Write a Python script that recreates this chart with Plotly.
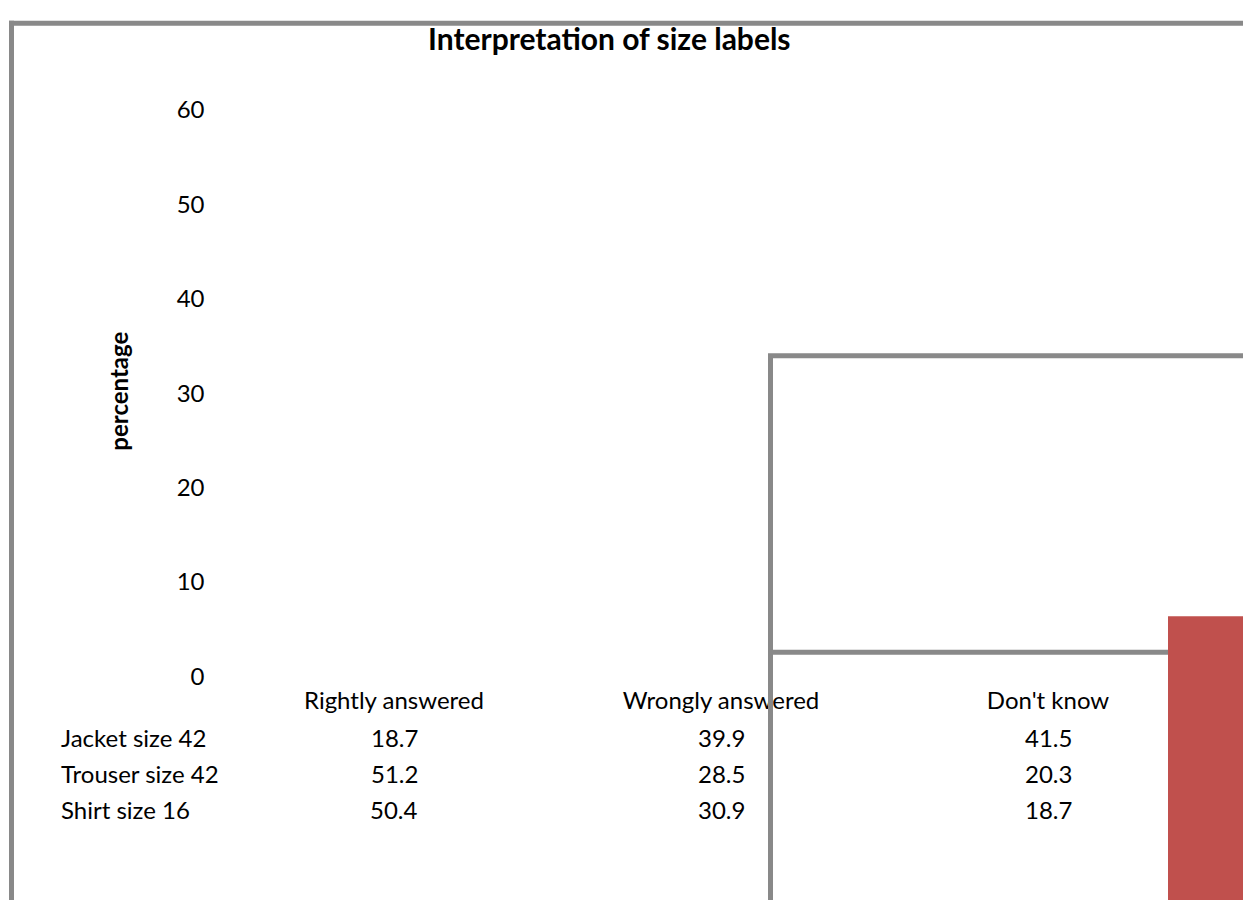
import plotly.graph_objects as go

# Survey results: share of respondents (percent) per garment label
categories = ["Rightly answered", "Wrongly answered", "Don't know"]
garments = ["Jacket size 42", "Trouser size 42", "Shirt size 16"]
jacket_42 = [18.7, 39.9, 41.5]
trouser_42 = [51.2, 28.5, 20.3]
shirt_16 = [50.4, 30.9, 18.7]
series = [jacket_42, trouser_42, shirt_16]
y_ticks = [0, 10, 20, 30, 40, 50, 60]

W, H = 1243, 913
FONT = "Lato, 'Open Sans', sans-serif"
GREY = "#898989"
RED = "#C0504D"
BODY = 24


def xp(px):
    return px / W


def yp(py):
    return 1 - py / H


fig = go.Figure()

fig.update_layout(
    width=W,
    height=H,
    margin=dict(l=0, r=0, t=0, b=0),
    paper_bgcolor="white",
    plot_bgcolor="white",
    showlegend=False,
    font=dict(family=FONT, size=BODY, color="black"),
    xaxis=dict(
        domain=[xp(230.5), xp(1211.5)],
        range=[-0.5, 2.5],
        tickvals=list(range(len(categories))),
        ticktext=categories,
        showgrid=False,
        zeroline=False,
        showline=False,
        ticks="",
        ticklabelstandoff=8,
        tickfont=dict(size=BODY),
        fixedrange=True,
    ),
    yaxis=dict(
        domain=[yp(682), yp(97)],
        range=[0, 60],
        tickvals=y_ticks,
        showgrid=False,
        zeroline=False,
        showline=False,
        ticks="",
        ticklabelstandoff=25,
        tickfont=dict(size=BODY),
        fixedrange=True,
    ),
)

annotations = [
    dict(text="<b>Interpretation of size labels</b>", xref="paper", yref="paper",
         x=xp(609), y=yp(23), xanchor="center", yanchor="middle",
         showarrow=False, font=dict(size=30)),
    dict(text="<b>percentage</b>", xref="paper", yref="paper",
         x=xp(119), y=yp(388), xanchor="center", yanchor="middle",
         textangle=-90, showarrow=False, font=dict(size=24)),
]

# data table beneath the category axis
row_y = [745, 782, 820]
for name, values, ry in zip(garments, series, row_y):
    annotations.append(dict(text=name, xref="paper", yref="paper",
                            x=xp(59), y=yp(ry), xanchor="left", yanchor="middle",
                            showarrow=False, font=dict(size=BODY)))
    for i, v in enumerate(values):
        annotations.append(dict(text=f"{v:.1f}", xref="x", yref="paper",
                                x=i, y=yp(ry), xanchor="center", yanchor="middle",
                                showarrow=False, font=dict(size=BODY)))
fig.update_layout(annotations=annotations)

line = dict(color=GREY, width=5)
shapes = [
    # outer frame
    dict(type="line", xref="paper", yref="paper", x0=xp(9), x1=xp(W), y0=yp(7.5), y1=yp(7.5), line=line),
    dict(type="line", xref="paper", yref="paper", x0=xp(11.5), x1=xp(11.5), y0=yp(5), y1=yp(H), line=line),
    # inner frame
    dict(type="line", xref="paper", yref="paper", x0=xp(768), x1=xp(W), y0=yp(351), y1=yp(351), line=line),
    dict(type="line", xref="paper", yref="paper", x0=xp(770.5), x1=xp(770.5), y0=yp(349), y1=yp(H), line=line),
    dict(type="line", xref="paper", yref="paper", x0=xp(770), x1=xp(1168), y0=yp(657), y1=yp(657), line=line),
    # red block at the right edge
    dict(type="rect", xref="paper", yref="paper", x0=xp(1168), x1=xp(W), y0=yp(620), y1=yp(H),
         fillcolor=RED, line=dict(width=0)),
]
for s in shapes:
    s["layer"] = "above"
fig.update_layout(shapes=shapes)

fig.write_html("out.html")
